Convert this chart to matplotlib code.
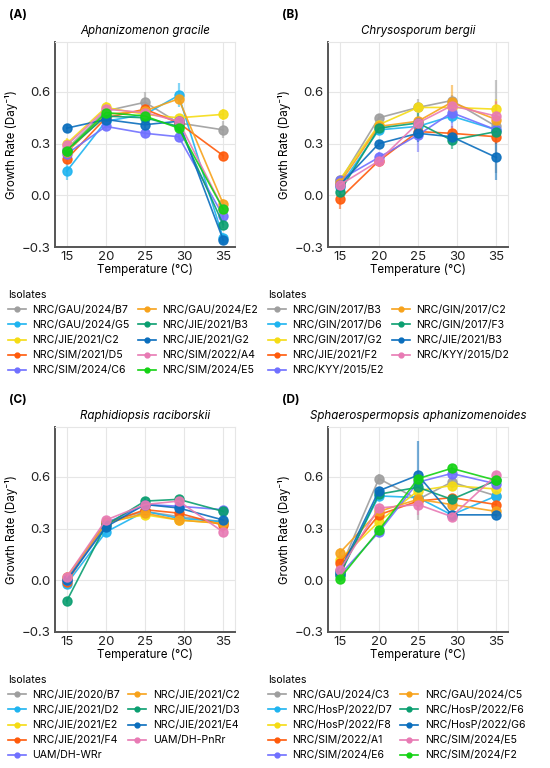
import numpy as np
import matplotlib
matplotlib.use("Agg")
import matplotlib.pyplot as plt

plt.rcParams['font.family'] = ['Inter', 'DejaVu Sans']

# isolate colours, same order in every panel
colors = ['#9e9e9e', '#1eb4f0', '#f5dc14', '#ff5a0a', '#7070ff',
          '#f7a21b', '#0a9e70', '#0a6ebd', '#e87ab4', '#14d214']

temps = [15, 20, 25, 29.3, 35]

# (A) Aphanizomenon gracile
labels_a = ['NRC/GAU/2024/B7', 'NRC/GAU/2024/G5', 'NRC/JIE/2021/C2', 'NRC/SIM/2021/D5',
            'NRC/SIM/2024/C6', 'NRC/GAU/2024/E2', 'NRC/JIE/2021/B3', 'NRC/JIE/2021/G2',
            'NRC/SIM/2022/A4', 'NRC/SIM/2024/E5']
rate_a = [[0.27, 0.49, 0.54, 0.42, 0.38],
          [0.14, 0.43, 0.47, 0.58, -0.25],
          [0.30, 0.51, 0.47, 0.45, 0.47],
          [0.21, 0.45, 0.50, 0.42, 0.23],
          [0.24, 0.40, 0.36, 0.34, -0.12],
          [0.25, 0.47, 0.49, 0.56, -0.05],
          [0.26, 0.46, 0.45, 0.40, -0.17],
          [0.39, 0.44, 0.41, 0.43, -0.26],
          [0.29, 0.50, 0.48, 0.43, -0.08],
          [0.26, 0.48, 0.46, 0.39, -0.08]]
err_a = [[0.03, 0.02, 0.06, 0.02, 0.05],
         [0.05, 0.02, 0.02, 0.07, 0.03],
         [0.03, 0.03, 0.02, 0.02, 0.03],
         [0.03, 0.02, 0.03, 0.02, 0.02],
         [0.02, 0.02, 0.02, 0.02, 0.03],
         [0.02, 0.02, 0.02, 0.03, 0.03],
         [0.02, 0.02, 0.02, 0.02, 0.02],
         [0.02, 0.02, 0.02, 0.02, 0.02],
         [0.02, 0.02, 0.02, 0.02, 0.03],
         [0.02, 0.02, 0.02, 0.02, 0.02]]

# (B) Chrysosporum bergii
labels_b = ['NRC/GIN/2017/B3', 'NRC/GIN/2017/D6', 'NRC/GIN/2017/G2', 'NRC/JIE/2021/F2',
            'NRC/KYY/2015/E2', 'NRC/GIN/2017/C2', 'NRC/GIN/2017/F3', 'NRC/JIE/2021/B3',
            'NRC/KYY/2015/D2']
rate_b = [[0.08, 0.45, 0.51, 0.55, 0.40],
          [0.05, 0.38, 0.40, 0.46, 0.38],
          [0.09, 0.41, 0.51, 0.51, 0.50],
          [-0.02, 0.20, 0.37, 0.36, 0.34],
          [0.09, 0.22, 0.35, 0.48, 0.38],
          [0.07, 0.40, 0.43, 0.54, 0.44],
          [0.02, 0.39, 0.42, 0.32, 0.37],
          [0.06, 0.30, 0.36, 0.34, 0.22],
          [0.06, 0.20, 0.42, 0.52, 0.46]]
err_b = [[0.02, 0.02, 0.05, 0.03, 0.27],
         [0.02, 0.02, 0.03, 0.04, 0.04],
         [0.02, 0.02, 0.02, 0.04, 0.06],
         [0.06, 0.03, 0.02, 0.04, 0.04],
         [0.02, 0.03, 0.10, 0.09, 0.04],
         [0.02, 0.02, 0.03, 0.10, 0.10],
         [0.02, 0.02, 0.06, 0.05, 0.03],
         [0.02, 0.02, 0.05, 0.02, 0.13],
         [0.02, 0.02, 0.03, 0.05, 0.09]]

# (C) Raphidiopsis raciborskii
labels_c = ['NRC/JIE/2020/B7', 'NRC/JIE/2021/D2', 'NRC/JIE/2021/E2', 'NRC/JIE/2021/F4',
            'UAM/DH-WRr', 'NRC/JIE/2021/C2', 'NRC/JIE/2021/D3', 'NRC/JIE/2021/E4',
            'UAM/DH-PnRr']
rate_c = [[0.01, 0.34, 0.40, 0.37, 0.34],
          [-0.02, 0.28, 0.40, 0.36, 0.34],
          [0.01, 0.34, 0.38, 0.35, 0.33],
          [-0.01, 0.33, 0.41, 0.39, 0.32],
          [0.00, 0.33, 0.44, 0.43, 0.41],
          [0.02, 0.33, 0.39, 0.35, 0.33],
          [-0.12, 0.32, 0.46, 0.47, 0.40],
          [0.00, 0.31, 0.44, 0.42, 0.35],
          [0.02, 0.35, 0.44, 0.46, 0.28]]
err_c = [[0.02, 0.01, 0.02, 0.02, 0.02],
         [0.02, 0.02, 0.02, 0.02, 0.02],
         [0.02, 0.02, 0.02, 0.02, 0.02],
         [0.02, 0.02, 0.02, 0.02, 0.02],
         [0.02, 0.02, 0.04, 0.02, 0.02],
         [0.02, 0.02, 0.02, 0.02, 0.02],
         [0.02, 0.02, 0.02, 0.02, 0.02],
         [0.02, 0.02, 0.02, 0.02, 0.02],
         [0.03, 0.02, 0.02, 0.02, 0.02]]

# (D) Sphaerospermopsis aphanizomenoides
labels_d = ['NRC/GAU/2024/C3', 'NRC/HosP/2022/D7', 'NRC/HosP/2022/F8', 'NRC/SIM/2022/A1',
            'NRC/SIM/2024/E6', 'NRC/GAU/2024/C5', 'NRC/HosP/2022/F6', 'NRC/HosP/2022/G6',
            'NRC/SIM/2024/E5', 'NRC/SIM/2024/F2']
rate_d = [[0.06, 0.59, 0.47, 0.57, 0.49],
          [0.04, 0.49, 0.48, 0.38, 0.49],
          [0.12, 0.34, 0.52, 0.55, 0.53],
          [0.10, 0.38, 0.46, 0.48, 0.44],
          [0.03, 0.28, 0.57, 0.62, 0.56],
          [0.16, 0.40, 0.47, 0.44, 0.40],
          [0.03, 0.50, 0.54, 0.47, 0.58],
          [0.05, 0.52, 0.61, 0.38, 0.38],
          [0.06, 0.42, 0.44, 0.37, 0.61],
          [0.01, 0.29, 0.59, 0.65, 0.58]]
err_d = [[0.02, 0.03, 0.12, 0.03, 0.02],
         [0.02, 0.02, 0.03, 0.02, 0.02],
         [0.03, 0.02, 0.02, 0.03, 0.02],
         [0.02, 0.02, 0.05, 0.02, 0.02],
         [0.02, 0.02, 0.02, 0.04, 0.02],
         [0.03, 0.02, 0.02, 0.02, 0.02],
         [0.02, 0.02, 0.02, 0.02, 0.02],
         [0.02, 0.02, 0.20, 0.02, 0.02],
         [0.02, 0.02, 0.06, 0.02, 0.02],
         [0.02, 0.02, 0.02, 0.02, 0.02]]

# tag, title, labels, rates, errors, axes corner (px), legend left (px)
panels = [
    ('(A)', 'Aphanizomenon gracile', labels_a, rate_a, err_a, (55, 42), 8),
    ('(B)', 'Chrysosporum bergii', labels_b, rate_b, err_b, (328, 42), 268),
    ('(C)', 'Raphidiopsis raciborskii', labels_c, rate_c, err_c, (55, 427), 8),
    ('(D)', 'Sphaerospermopsis aphanizomenoides', labels_d, rate_d, err_d, (328, 427), 268),
]

W, H = 550, 768
fig = plt.figure(figsize=(W / 100, H / 100), dpi=100)

for tag, title, labels, rates, errs, (px, py), lx in panels:
    ax = fig.add_axes([px / W, 1 - (py + 205) / H, 180 / W, 205 / H])
    for i in range(len(labels)):
        ax.errorbar(temps, rates[i], yerr=errs[i], fmt='none', ecolor=colors[i],
                    elinewidth=1.6, alpha=0.55, zorder=2)
        ax.plot(temps, rates[i], '-o', color=colors[i], lw=1.2, ms=6.5,
                alpha=0.9, zorder=3, label=labels[i])

    ax.set_xlim(13.5, 36.5)
    ax.set_ylim(-0.3, 0.89)
    ax.set_xticks([15, 20, 25, 30, 35])
    ax.set_yticks([-0.3, 0.0, 0.3, 0.6])
    ax.set_yticklabels(['\u22120.3', '0.0', '0.3', '0.6'])
    ax.tick_params(length=0, labelsize=9.5, pad=3, colors='#222222')
    ax.grid(color='#e6e6e6', lw=0.8, zorder=0)
    for s in ['top', 'right']:
        ax.spines[s].set_color('#e6e6e6')
        ax.spines[s].set_linewidth(0.8)
    for s in ['left', 'bottom']:
        ax.spines[s].set_color('#555555')
        ax.spines[s].set_linewidth(1.4)
    ax.set_title(title, style='italic', fontsize=8.3, pad=6)
    ax.set_xlabel('Temperature (\u00b0C)', fontsize=8.3, labelpad=0)
    ax.set_ylabel('Growth Rate (Day\u207b\u00b9)', fontsize=8.3, labelpad=3)
    fig.text((px - 46) / W, 1 - (py - 27) / H, tag, fontsize=8.5, fontweight='bold',
             va='center', ha='left')

    # legend of isolates under each panel
    leg_handles = [plt.Line2D([], [], color=c, marker='o', ms=3.5, lw=1.2)
                   for c in colors[:len(labels)]]
    fig.legend(leg_handles, labels, title='Isolates', loc='upper left',
               bbox_to_anchor=(lx / W, 1 - (py + 248) / H), ncol=2,
               frameon=False, alignment='left', fontsize=7.6, title_fontsize=7.6,
               handlelength=1.7, handletextpad=0.6, columnspacing=0.8,
               labelspacing=0.48, borderpad=0, borderaxespad=0)

fig.savefig('out.png', dpi=100)
